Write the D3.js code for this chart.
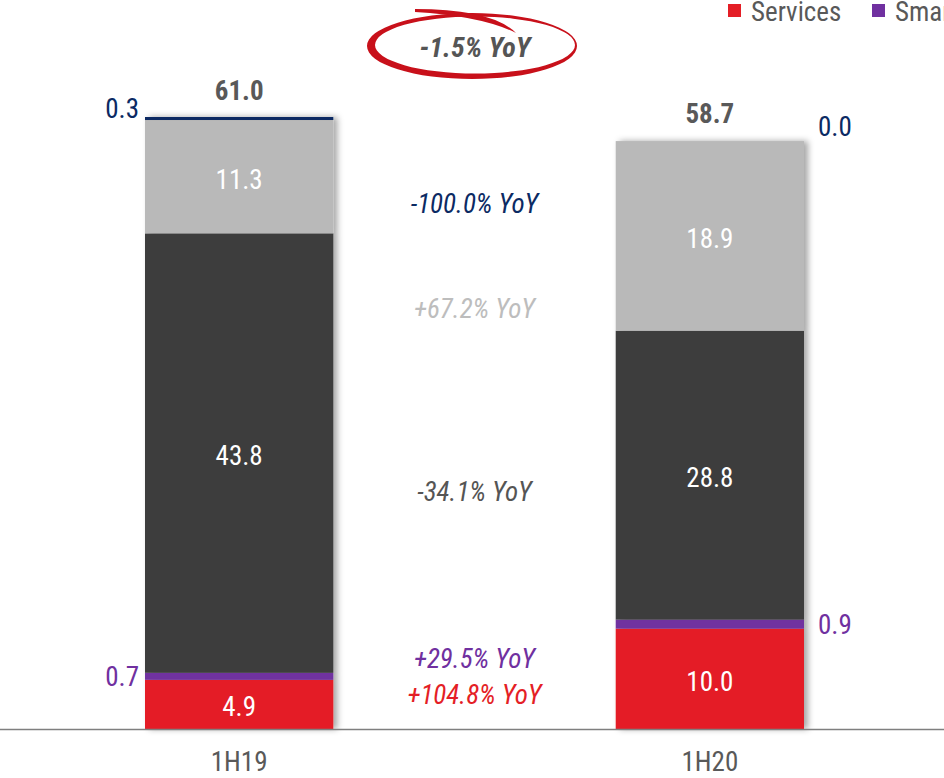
<!DOCTYPE html>
<html>
<head>
<meta charset="utf-8">
<script src="https://cdn.jsdelivr.net/npm/d3@7"></script>
<style>
  body { margin: 0; background: #fff; }
  svg { display: block; font-family: "Roboto Condensed", Roboto, sans-serif; }
</style>
</head>
<body>
<div id="container"></div>
<script>
// data
let categories = ["1H19", "1H20"];
let seriesNames = ["Services", "Smartphones", "Other", "Tablets", "Wearables"];
let services = [4.9, 10.0];
let smartphones = [0.7, 0.9];
let other = [43.8, 28.8];
let tablets = [11.3, 18.9];
let wearables = [0.3, 0.0];
let totals = [61.0, 58.7];
let yoyLabels = ["+104.8% YoY", "+29.5% YoY", "-34.1% YoY", "+67.2% YoY", "-100.0% YoY"];
let totalYoy = "-1.5% YoY";

let colors = ["#e41e26", "#7030a0", "#3c3c3c", "#b9b9b9", "#0b2a63"];
let yoyColors = ["#e41e26", "#7030a0", "#555555", "#bdbdbd", "#0b2a63"];

let width = 944, height = 778;
let fs = 27;

let svg = d3.select('#container')
            .append('svg')
            .attr("width", width)
            .attr("height", height);

let defs = svg.append('defs');
let shadow = defs.append('filter').attr('id', 'shadow')
    .attr('x', '-10%').attr('y', '-10%').attr('width', '130%').attr('height', '130%');
shadow.append('feDropShadow')
    .attr('dx', 4).attr('dy', 0).attr('stdDeviation', 3)
    .attr('flood-color', '#000').attr('flood-opacity', 0.35);

// scales
let x = d3.scaleBand()
    .domain(categories)
    .range([145, 804])
    .paddingInner(0.6)
    .paddingOuter(0);

let y = d3.scaleLinear()
    .domain([0, 61])
    .range([729, 117]);

// stack
let rows = categories.map((c, i) => ({
    cat: c,
    Services: services[i],
    Smartphones: smartphones[i],
    Other: other[i],
    Tablets: tablets[i],
    Wearables: wearables[i]
}));
let stacked = d3.stack().keys(seriesNames)(rows);

// bars with shadow
let barGroup = svg.append('g');
categories.forEach((c, i) => {
    let g = barGroup.append('g').attr('filter', 'url(#shadow)');
    stacked.forEach((layer, k) => {
        let d = layer[i];
        g.append('rect')
            .attr('x', x(c))
            .attr('width', x.bandwidth())
            .attr('y', y(d[1]))
            .attr('height', Math.max(0, y(d[0]) - y(d[1])))
            .attr('fill', colors[k]);
    });
});

// axis line
svg.append('line')
    .attr('x1', 0).attr('x2', width)
    .attr('y1', y(0) + 0.5).attr('y2', y(0) + 0.5)
    .attr('stroke', '#7f7f7f').attr('stroke-width', 1.5);

// category labels
svg.selectAll('.cat')
    .data(categories)
    .enter()
    .append('text')
    .attr('x', d => x(d) + x.bandwidth() / 2)
    .attr('y', 771)
    .attr('text-anchor', 'middle')
    .attr('font-size', fs)
    .attr('fill', '#595959')
    .text(d => d);

// inner value labels (Services, Other, Tablets)
[0, 2, 3].forEach(k => {
    stacked[k].forEach((d, i) => {
        svg.append('text')
            .attr('x', x(categories[i]) + x.bandwidth() / 2)
            .attr('y', (y(d[0]) + y(d[1])) / 2 + 12)
            .attr('text-anchor', 'middle')
            .attr('font-size', fs)
            .attr('fill', '#fff')
            .text(d3.format('.1f')(d.data[seriesNames[k]]));
    });
});

// outer small labels (Smartphones, Wearables)
[1, 4].forEach(k => {
    stacked[k].forEach((d, i) => {
        let left = i === 0;
        let xx = left ? x(categories[i]) - 6 : x(categories[i]) + x.bandwidth() + 14;
        let yy = k === 1 ? (y(d[0]) + y(d[1])) / 2 + 10 : (left ? y(d[1]) + 1 : y(totals[i]) - 4);
        svg.append('text')
            .attr('x', xx)
            .attr('y', yy)
            .attr('text-anchor', left ? 'end' : 'start')
            .attr('font-size', fs)
            .attr('fill', colors[k])
            .text(d3.format('.1f')(d.data[seriesNames[k]]));
    });
});

// totals
svg.selectAll('.total')
    .data(totals)
    .enter()
    .append('text')
    .attr('x', (d, i) => x(categories[i]) + x.bandwidth() / 2)
    .attr('y', d => y(d) - 17)
    .attr('text-anchor', 'middle')
    .attr('font-size', fs)
    .attr('font-weight', 'bold')
    .attr('fill', '#595959')
    .text(d => d3.format('.1f')(d));

// yoy labels in the middle
let midX = (x(categories[0]) + x.bandwidth() + x(categories[1])) / 2;
let yoyY = [704, 668, 501, 318, 213];
yoyLabels.forEach((t, k) => {
    svg.append('text')
        .attr('x', midX)
        .attr('y', yoyY[k])
        .attr('text-anchor', 'middle')
        .attr('font-size', fs)
        .attr('font-style', 'italic')
        .attr('fill', yoyColors[k])
        .text(t);
});

// total yoy with hand-drawn ellipse
let ex = 472, ey = 46;
svg.append('path')
    .attr('d', `M ${ex - 105} ${ey} a 105 33 0 1 0 210 0 a 105 33 0 1 0 -210 0 Z ` +
               `M ${ex - 97} ${ey - 1} a 100 28.5 0 1 0 200 0 a 100 28.5 0 1 0 -200 0 Z`)
    .attr('fill', '#c8101a')
    .attr('fill-rule', 'evenodd');
svg.append('path')
    .attr('d', `M ${ex - 57} ${ey - 37} Q ${ex + 20} ${ey - 37} ${ex + 44} ${ey - 13} Q ${ex + 10} ${ey - 30} ${ex - 57} ${ey - 34} Z`)
    .attr('fill', '#c8101a');
svg.append('text')
    .attr('x', ex + 3)
    .attr('y', ey + 11)
    .attr('text-anchor', 'middle')
    .attr('font-size', 28)
    .attr('font-weight', 'bold')
    .attr('font-style', 'italic')
    .attr('fill', '#555555')
    .text(totalYoy);

// legend (runs off the right edge, as in the original)
let lx = [728, 872];
[0, 1].forEach((k, j) => {
    svg.append('rect')
        .attr('x', lx[j]).attr('y', 4)
        .attr('width', 13).attr('height', 13)
        .attr('fill', colors[k]);
    svg.append('text')
        .attr('x', lx[j] + 23).attr('y', 21)
        .attr('font-size', fs)
        .attr('fill', '#595959')
        .text(seriesNames[k]);
});
</script>
</body>
</html>
